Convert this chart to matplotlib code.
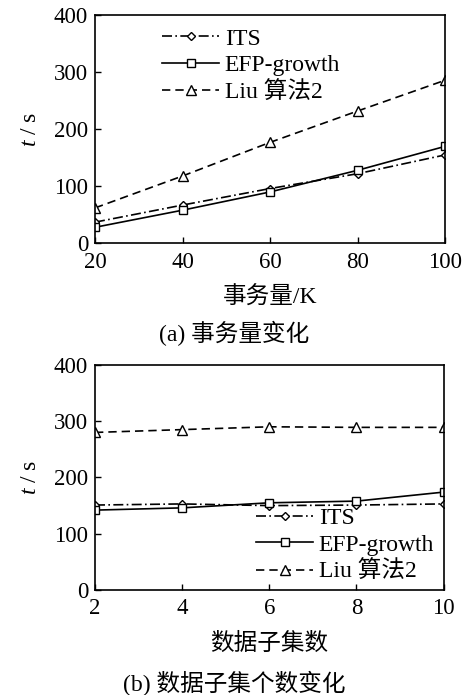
import matplotlib.pyplot as plt

plt.rcParams['font.family'] = ['Liberation Serif', 'Noto Sans CJK SC']
plt.rcParams['mathtext.fontset'] = 'custom'
plt.rcParams['mathtext.it'] = 'Liberation Serif:italic'

# (a) 事务量变化
trans_k = [20, 40, 60, 80, 100]
its_a = [37, 67, 96, 122, 155]
efp_a = [28, 58, 90, 128, 170]
liu_a = [62, 118, 177, 232, 286]

# (b) 数据子集个数变化
subsets = [2, 4, 6, 8, 10]
its_b = [151, 153, 150, 151, 153]
efp_b = [142, 146, 155, 158, 174]
liu_b = [280, 285, 290, 289, 289]

names = ['ITS', 'EFP-growth', 'Liu 算法2']
styles = [dict(ls=(0, (6, 2, 1, 2)), marker='D', ms=4.5),
          dict(ls='-', marker='s', ms=6),
          dict(ls=(0, (5, 3)), marker='^', ms=6.5)]

fs = 17
fig = plt.figure(figsize=(4.68, 6.95), dpi=100)
ax1 = fig.add_axes([0.203, 0.650, 0.748, 0.328])
ax2 = fig.add_axes([0.203, 0.151, 0.745, 0.324])

panels = [
    (ax1, trans_k, [its_a, efp_a, liu_a], '事务量/K', 'upper left',
     (0.165, 0.985)),
    (ax2, subsets, [its_b, efp_b, liu_b], '数据子集数', 'lower right',
     (1.0, -0.01)),
]

for ax, xs, series, xlab, loc, anchor in panels:
    for ys, name, st in zip(series, names, styles):
        ax.plot(xs, ys, color='black', lw=1.2, mfc='white', mec='black',
                mew=1.0, label=name, **st)
    ax.set_xlim(xs[0], xs[-1])
    ax.set_ylim(0, 400)
    ax.set_xticks(xs)
    ax.set_yticks([0, 100, 200, 300, 400])
    ax.tick_params(direction='in', labelsize=16.5, length=4, width=1)
    ax.tick_params(axis='x', pad=6)
    ax.tick_params(axis='y', pad=5)
    for s in ax.spines.values():
        s.set_linewidth(1.2)
    ax.set_ylabel('$t$ / s', fontsize=fs, labelpad=9)
    ax.set_xlabel(xlab, fontsize=fs, labelpad=10)
    ax.legend(loc=loc, bbox_to_anchor=anchor, frameon=False, fontsize=fs,
              handlelength=2.4, handletextpad=0.25, labelspacing=0.22,
              borderaxespad=0.2, borderpad=0.2)

fig.text(0.5, 1 - 333 / 695, '(a) 事务量变化', ha='center', va='center', fontsize=fs)
fig.text(0.5, 1 - 683 / 695, '(b) 数据子集个数变化', ha='center', va='center', fontsize=fs)

fig.savefig('out.png', dpi=100)
